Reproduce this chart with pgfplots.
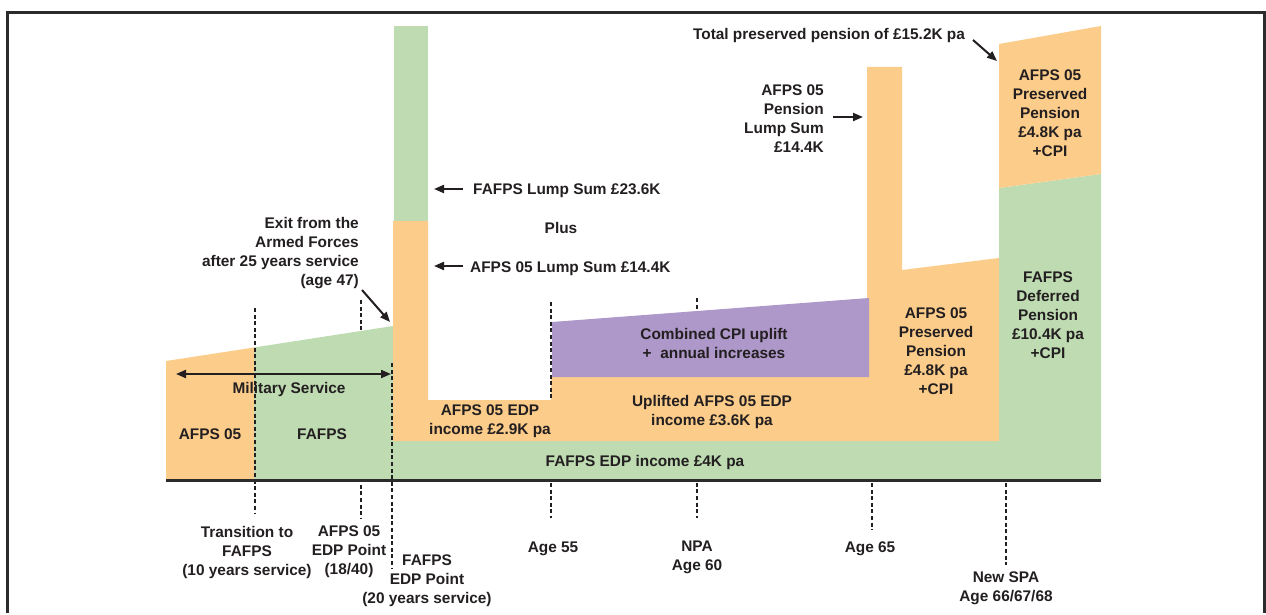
\documentclass[border=0pt]{standalone}
\usepackage{pgfplots}
\pgfplotsset{compat=1.18}
\usepackage{fontspec}
\setmainfont{Liberation Sans}
\usetikzlibrary{arrows.meta}

\definecolor{afps}{HTML}{FCCC8A}
\definecolor{fafps}{HTML}{BEDBB2}
\definecolor{cpi}{HTML}{AE97C9}
\definecolor{ink}{HTML}{231F20}
\definecolor{rule}{HTML}{2B2B2B}

\tikzset{
  lbl/.style={font=\fontsize{15.4}{19}\selectfont\bfseries, text=ink, inner sep=0pt,
    align=center, anchor=north, execute at begin node={\rule{0pt}{11.5pt}}},
  dots/.style={ink, line width=2.8pt, dash pattern=on 4pt off 2.6pt},
  arr/.style={ink, line width=2pt, -{Triangle[length=10pt,width=8pt]}},
}

\begin{document}
\begin{tikzpicture}
\begin{axis}[
  scale only axis, width=1266pt, height=613pt,
  xmin=0, xmax=1266, ymin=0, ymax=613, y dir=reverse,
  hide axis, clip=false,
]
% page extent and frame
\path (axis cs:0,0) rectangle (axis cs:1266,613);
\draw[rule, line width=3pt] (axis cs:7,613) -- (axis cs:7,13) -- (axis cs:1264,13) -- (axis cs:1264,613);

% guide lines hidden behind the areas
\addplot[dots] coordinates {(361,300) (361,518)};
\addplot[dots] coordinates {(697,298) (697,518)};

% areas
\addplot[fill=afps, draw=none] coordinates {(166,480) (166,361) (254,347.5) (254,480)};
\addplot[fill=fafps, draw=none] coordinates {(254,480) (254,347.5) (393,326) (393,480)};
\addplot[fill=fafps, draw=none] coordinates {(393,480) (393,441) (999,441) (999,188) (1101,174) (1101,480)};
\addplot[fill=afps, draw=none] coordinates {(393,441) (393,221) (428,221) (428,400) (551,400) (551,377)
  (867,377) (867,67) (902,67) (902,270) (999,258) (999,441)};
\addplot[fill=fafps, draw=none] coordinates {(394,26) (428,26) (428,221) (394,221)};
\addplot[fill=cpi, draw=none] coordinates {(552,322) (869,298) (869,377) (552,377)};
\addplot[fill=afps, draw=none] coordinates {(999,188) (1101,174) (1101,26) (999,44)};

% guide lines on top
\addplot[dots] coordinates {(255,308) (255,513)};
\addplot[dots] coordinates {(392,363) (392,568)};
\addplot[dots] coordinates {(551,302) (551,400)};
\addplot[dots] coordinates {(551,483) (551,518)};
\addplot[dots] coordinates {(872,483) (872,530)};
\addplot[dots] coordinates {(1006,483) (1006,565)};

% time axis
\addplot[rule, line width=3pt] coordinates {(166,480) (1101,480)};

% arrows
\addplot[arr] coordinates {(362,290) (390,322)};
\addplot[ink, line width=2pt, {Triangle[length=10pt,width=8pt]}-{Triangle[length=10pt,width=8pt]}] coordinates {(176,374) (391,374)};
\addplot[arr] coordinates {(463,189) (434,189)};
\addplot[arr] coordinates {(463,266) (434,266)};
\addplot[arr] coordinates {(833,117) (863,117)};
\addplot[arr] coordinates {(973,40) (997,61)};

% labels under the axis
\node[lbl] at (axis cs:247,526) {Transition to\\FAFPS\\(10 years service)};
\node[lbl] at (axis cs:349,526) {AFPS 05\\EDP Point\\(18/40)};
\node[lbl] at (axis cs:427,555) {FAFPS\\EDP Point\\(20 years service)};
\node[lbl] at (axis cs:553,541) {Age 55};
\node[lbl] at (axis cs:697,541) {NPA\\Age 60};
\node[lbl] at (axis cs:870,541) {Age 65};
\node[lbl] at (axis cs:1006,572) {New SPA\\Age 66/67/68};

% labels in the chart
\node[lbl, align=right, anchor=north east] at (axis cs:359,217) {Exit from the\\Armed Forces\\after 25 years service\\(age 47)};
\node[lbl] at (axis cs:289,382) {Military Service};
\node[lbl] at (axis cs:210,428) {AFPS 05};
\node[lbl] at (axis cs:322,428) {FAFPS};
\node[lbl, anchor=north west] at (axis cs:473,183) {FAFPS Lump Sum £23.6K};
\node[lbl] at (axis cs:561,222) {Plus};
\node[lbl, anchor=north west] at (axis cs:470,261) {AFPS 05 Lump Sum £14.4K};
\node[lbl] at (axis cs:490,405) {AFPS 05 EDP\\income £2.9K pa};
\node[lbl] at (axis cs:714,328) {Combined CPI uplift\\+\ \ annual increases};
\node[lbl] at (axis cs:712,395) {Uplifted AFPS 05 EDP\\income £3.6K pa};
\node[lbl] at (axis cs:645,455) {FAFPS EDP income £4K pa};
\node[lbl, align=right, anchor=north east] at (axis cs:824,85) {AFPS 05\\Pension\\Lump Sum\\£14.4K};
\node[lbl] at (axis cs:829,28) {Total preserved pension of £15.2K pa};
\node[lbl] at (axis cs:1050,70) {AFPS 05\\Preserved\\Pension\\£4.8K pa\\+CPI};
\node[lbl] at (axis cs:1048,272) {FAFPS\\Deferred\\Pension\\£10.4K pa\\+CPI};
\node[lbl] at (axis cs:936,308) {AFPS 05\\Preserved\\Pension\\£4.8K pa\\+CPI};
\end{axis}
\end{tikzpicture}
\end{document}
